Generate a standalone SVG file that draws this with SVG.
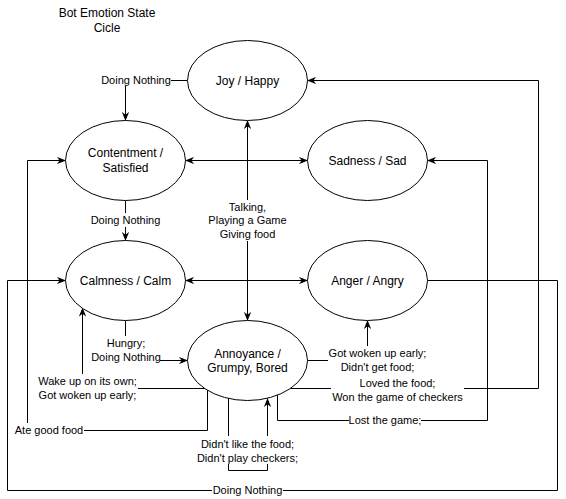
<svg xmlns="http://www.w3.org/2000/svg" width="566" height="499" viewBox="0 0 566 499">
<defs>
<marker id="arr" viewBox="0 0 10 8" refX="9.5" refY="4" markerWidth="9" markerHeight="7.5" orient="auto-start-reverse" markerUnits="userSpaceOnUse">
<path d="M0,0 L10,4 L0,8 L3,4 z" fill="#000"/>
</marker>
</defs>
<style>
text{font-family:"Liberation Sans",Arial,Helvetica,sans-serif;font-size:12px;fill:#000;text-anchor:middle}
.lbl text{font-size:11px}
.node ellipse{fill:#fff;stroke:#000;stroke-width:1}
.edge{fill:none;stroke:#000;stroke-width:1}
.end{marker-end:url(#arr)}
.both{marker-start:url(#arr);marker-end:url(#arr)}
.lbl rect{fill:#fff}
</style>
<rect width="566" height="499" fill="#fff"/>
<g id="title">
<text x="107" y="17">Bot Emotion State</text>
<text x="107" y="31.5">Cicle</text>
</g>
<g id="connectors">
<path class="edge end" d="M187.5,80.5 H125.5 V120.5"/>
<path class="edge both" d="M185.5,160.5 H307.5"/>
<path class="edge both" d="M185.5,280.5 H307.5"/>
<path class="edge both" d="M247.5,120.5 V320.5"/>
<path class="edge end" d="M125.5,200.5 V240.5"/>
<path class="edge end" d="M125.5,320.5 V360.5 H187.5"/>
<path class="edge end" d="M205,388.5 H82.5 V308"/>
<path class="edge end" d="M207.5,390 V430.5 H27.5 V160.5 H65.5"/>
<path class="edge end" d="M427.5,280.5 H557.5 V490.5 H7.5 V280.5 H65.5"/>
<path class="edge end" d="M228.5,398 V470.5 H267.5 V398.5"/>
<path class="edge end" d="M277.5,395 V420.5 H487.5 V160.5 H427.5"/>
<path class="edge end" d="M307.5,360.5 H367.5 V320.5"/>
<path class="edge end" d="M290,388.5 H538.5 V80.5 H307.5"/>
</g>
<g id="edge-labels" class="lbl">
<rect x="101" y="73" width="70" height="13"/>
<text x="136" y="84">Doing Nothing</text>
<rect x="91" y="213" width="70" height="14"/>
<text x="125.5" y="224">Doing Nothing</text>
<rect x="202" y="200" width="91" height="41"/>
<text x="247.5" y="211">Talking,</text>
<text x="247.5" y="224">Playing a Game</text>
<text x="247.5" y="237.5">Giving food</text>
<rect x="91" y="336" width="69" height="28"/>
<text x="126" y="347">Hungry;</text>
<text x="126" y="361">Doing Nothing</text>
<rect x="37" y="374" width="101" height="28"/>
<text x="87.5" y="385">Wake up on its own;</text>
<text x="87.5" y="399">Got woken up early;</text>
<rect x="14" y="423" width="70" height="14"/>
<text x="49" y="434">Ate good food</text>
<rect x="196" y="436" width="103" height="28"/>
<text x="247.5" y="448">Didn't like the food;</text>
<text x="247.5" y="461.5">Didn't play checkers;</text>
<rect x="212" y="483" width="71" height="14"/>
<text x="247.5" y="494">Doing Nothing</text>
<rect x="328" y="346" width="100" height="28"/>
<text x="377.5" y="357">Got woken up early;</text>
<text x="377.5" y="371">Didn't get food;</text>
<rect x="331" y="376" width="133" height="28"/>
<text x="397.5" y="387">Loved the food;</text>
<text x="397.5" y="401">Won the game of checkers</text>
<rect x="349" y="413" width="72" height="14"/>
<text x="385" y="424">Lost the game;</text>
</g>
<g id="joy" class="node">
<ellipse cx="247.5" cy="80.5" rx="60" ry="40"/>
<text x="247.5" y="84.5">Joy / Happy</text>
</g>
<g id="contentment" class="node">
<ellipse cx="125.5" cy="160.5" rx="60" ry="40"/>
<text x="125.5" y="157">Contentment /</text>
<text x="125.5" y="171.5">Satisfied</text>
</g>
<g id="sadness" class="node">
<ellipse cx="367.5" cy="160.5" rx="60" ry="40"/>
<text x="367.5" y="164.5">Sadness / Sad</text>
</g>
<g id="calmness" class="node">
<ellipse cx="125.5" cy="280.5" rx="60" ry="40"/>
<text x="125.5" y="284.5">Calmness / Calm</text>
</g>
<g id="anger" class="node">
<ellipse cx="367.5" cy="280.5" rx="60" ry="40"/>
<text x="367.5" y="284.5">Anger / Angry</text>
</g>
<g id="annoyance" class="node">
<ellipse cx="247.5" cy="360.5" rx="60" ry="40"/>
<text x="247.5" y="357.5">Annoyance /</text>
<text x="247.5" y="372">Grumpy, Bored</text>
</g>
</svg>
